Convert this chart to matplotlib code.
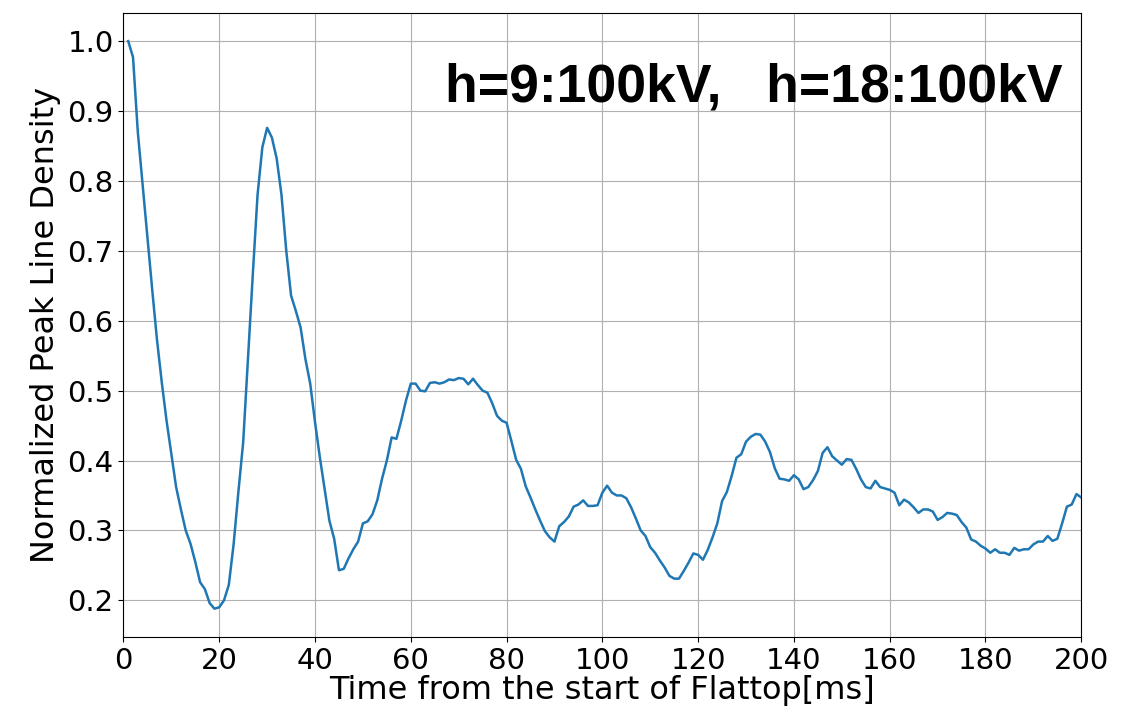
import matplotlib
matplotlib.use("Agg")
import matplotlib.pyplot as plt
import numpy as np

# time axis [ms] and normalized peak line density
time_ms = np.arange(1, 201)
peak_density = [
    1.000, 0.977, 0.870, 0.795, 0.720, 0.645, 0.573, 0.512, 0.457, 0.410,
    0.362, 0.330, 0.300, 0.281, 0.255, 0.226, 0.216, 0.196, 0.188, 0.190,
    0.200, 0.222, 0.280, 0.355, 0.426, 0.545, 0.665, 0.780, 0.848, 0.876,
    0.862, 0.832, 0.780, 0.700, 0.636, 0.614, 0.590, 0.545, 0.510, 0.455,
    0.405, 0.360, 0.314, 0.288, 0.243, 0.245, 0.260, 0.273, 0.284, 0.310,
    0.313, 0.323, 0.343, 0.374, 0.400, 0.433, 0.431, 0.457, 0.486, 0.510,
    0.510, 0.500, 0.499, 0.511, 0.512, 0.510, 0.512, 0.516, 0.515, 0.518,
    0.517, 0.509, 0.517, 0.508, 0.500, 0.497, 0.482, 0.464, 0.457, 0.454,
    0.428, 0.401, 0.388, 0.363, 0.347, 0.330, 0.314, 0.299, 0.290, 0.284,
    0.306, 0.312, 0.320, 0.334, 0.337, 0.343, 0.335, 0.335, 0.336, 0.354,
    0.364, 0.354, 0.350, 0.350, 0.346, 0.333, 0.317, 0.300, 0.292, 0.276,
    0.268, 0.257, 0.247, 0.235, 0.231, 0.231, 0.242, 0.254, 0.267, 0.265,
    0.258, 0.272, 0.290, 0.310, 0.342, 0.355, 0.378, 0.404, 0.409, 0.427,
    0.434, 0.438, 0.437, 0.427, 0.412, 0.389, 0.374, 0.373, 0.371, 0.379,
    0.373, 0.359, 0.362, 0.372, 0.385, 0.411, 0.419, 0.406, 0.400, 0.394,
    0.402, 0.401, 0.388, 0.373, 0.362, 0.360, 0.371, 0.362, 0.360, 0.358,
    0.354, 0.336, 0.344, 0.340, 0.333, 0.325, 0.330, 0.330, 0.327, 0.315,
    0.319, 0.325, 0.324, 0.322, 0.312, 0.304, 0.287, 0.284, 0.278, 0.274,
    0.268, 0.273, 0.268, 0.268, 0.265, 0.275, 0.271, 0.273, 0.273, 0.280,
    0.284, 0.284, 0.292, 0.285, 0.288, 0.310, 0.334, 0.337, 0.352, 0.347,
]
label_text = "h=9:100kV,   h=18:100kV"

fig, ax = plt.subplots(figsize=(11.43, 7.11), dpi=100)
fig.subplots_adjust(left=0.108, right=0.946, top=0.982, bottom=0.104)

ax.plot(time_ms, peak_density, color="C0", lw=1.8)
ax.set_xlim(0, 200)
ax.set_xticks(np.arange(0, 201, 20))
ax.grid(True)
ax.tick_params(labelsize=21)
ax.set_xlabel("Time from the start of Flattop[ms]", fontsize=23, labelpad=0)
ax.set_ylabel("Normalized Peak Line Density", fontsize=23, labelpad=5)

ax.text(0.98, 0.858, label_text, transform=ax.transAxes, ha="right",
        va="baseline", fontsize=38.5, fontweight="bold",
        family=["Liberation Sans", "DejaVu Sans"])

fig.savefig("out.png", dpi=100)
